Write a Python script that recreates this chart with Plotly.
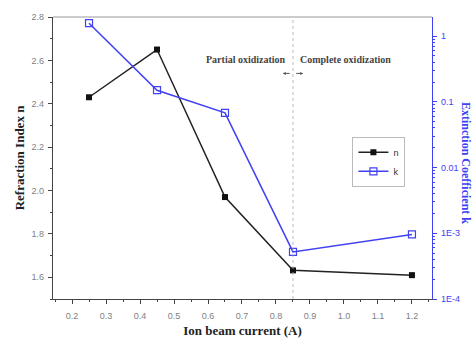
import plotly.graph_objects as go

current = [0.25, 0.45, 0.65, 0.85, 1.2]
n_vals = [2.43, 2.65, 1.97, 1.632, 1.61]
k_vals = [1.57, 0.15, 0.068, 5.2e-4, 9.6e-4]

k_tickvals = [1e-4, 1e-3, 1e-2, 1e-1, 1]
k_ticktext = ["1E-4", "1E-3", "0.01", "0.1", "1"]
k_minor = [m * 10.0 ** e for e in range(-4, 1) for m in range(2, 10) if m * 10.0 ** e < 1.95]

x_ticks = [0.2, 0.3, 0.4, 0.5, 0.6, 0.7, 0.8, 0.9, 1.0, 1.1, 1.2]
n_ticks = [1.6, 1.8, 2.0, 2.2, 2.4, 2.6, 2.8]

BLUE = "#4040f4"
DARK = "#222222"
TICKFONT = dict(family="Liberation Sans, Arial", size=9, color="#808080")
SERIF = "Liberation Serif, Times New Roman"

fig = go.Figure()
fig.add_trace(go.Scatter(
    x=current, y=n_vals, name="n", mode="lines+markers",
    line=dict(color=DARK, width=1.5),
    marker=dict(symbol="square", size=6, color="#111111"),
))
fig.add_trace(go.Scatter(
    x=current, y=k_vals, name="k", mode="lines+markers", yaxis="y2",
    line=dict(color=BLUE, width=1.5),
    marker=dict(symbol="square-open", size=7, color=BLUE, line=dict(width=1.2)),
))

fig.add_shape(type="line", x0=0.85, x1=0.85, y0=0, y1=1, xref="x", yref="paper",
              line=dict(color="#aaaaaa", width=0.8, dash="3px,3px"))

fig.update_layout(
    width=475, height=338,
    margin=dict(l=53, r=43, t=17, b=39),
    paper_bgcolor="white", plot_bgcolor="white",
    showlegend=True,
    legend=dict(x=0.79, y=0.575, xanchor="left", yanchor="top",
                bordercolor="#bbbbbb", borderwidth=1, bgcolor="white",
                font=dict(family="Liberation Sans, Arial", size=9, color="#333333"),
                itemwidth=30, tracegroupgap=0),
    xaxis=dict(range=[0.144, 1.259], tickvals=x_ticks, automargin=False,
               ticktext=[f"{v:.1f}" for v in x_ticks],
               ticks="outside", ticklen=4, tickcolor="#444444", ticklabelstandoff=4,
               minor=dict(ticks="outside", ticklen=2, dtick=0.05, tick0=0.15, tickcolor="#444444"),
               showline=True, linecolor="#444444", linewidth=1.2, mirror=False,
               showgrid=False, zeroline=False, tickfont=TICKFONT,
               title=dict(text="<b>Ion beam current (A)</b>",
                          font=dict(family=SERIF, size=13, color="#222222"), standoff=5)),
    yaxis=dict(range=[1.5, 2.8], tickvals=n_ticks, automargin=False,
               ticktext=[f"{v:.1f}" for v in n_ticks],
               ticks="outside", ticklen=4, tickcolor="#444444", ticklabelstandoff=2,
               minor=dict(ticks="outside", ticklen=2, dtick=0.1, tick0=1.5, tickcolor="#444444"),
               showline=True, linecolor="#444444", linewidth=1.2,
               showgrid=False, zeroline=False, tickfont=TICKFONT,
               title=dict(text="<b>Refraction Index n</b>",
                          font=dict(family=SERIF, size=13, color="#222222"), standoff=4)),
    yaxis2=dict(type="log", range=[-4.0, 0.29], overlaying="y", side="right", automargin=False,
                tickvals=k_tickvals, ticktext=k_ticktext,
                ticks="outside", ticklen=4, tickcolor=BLUE, ticklabelstandoff=2,
                minor=dict(ticks="outside", ticklen=2, tickmode="array", tickvals=k_minor, tickcolor=BLUE),
                showline=True, linecolor=BLUE, linewidth=1.2,
                showgrid=False, zeroline=False,
                tickfont=dict(family="Liberation Sans, Arial", size=9, color=BLUE)),
)

# top frame line
fig.add_shape(type="line", x0=0, x1=1, y0=1, y1=1, xref="paper", yref="paper",
              line=dict(color="#999999", width=1.2))

fig.add_annotation(text="<b>Extinction Coefficient k</b>",
                   x=(466 - 53) / (475 - 53 - 43), y=1 - (163 - 17) / (338 - 17 - 39),
                   xref="paper", yref="paper", xanchor="center", yanchor="middle",
                   showarrow=False, textangle=90,
                   font=dict(family=SERIF, size=12, color=BLUE))

fig.add_annotation(text="<b>Partial oxidization</b>", x=0.835, y=0.85, xref="x", yref="paper",
                   xanchor="right", yanchor="middle", showarrow=False,
                   font=dict(family=SERIF, size=10, color="#444444"))
fig.add_annotation(text="<b>Complete oxidization</b>", x=0.865, y=0.85, xref="x", yref="paper",
                   xanchor="left", yanchor="middle", showarrow=False,
                   font=dict(family=SERIF, size=10, color="#444444"))
fig.add_annotation(x=0.82, y=0.8, ax=0.845, ay=0.8, xref="x", yref="y domain",
                   axref="x", ayref="y domain",
                   text="", showarrow=True, arrowhead=2, arrowsize=0.6, arrowwidth=1, arrowcolor="#555555")
fig.add_annotation(x=0.88, y=0.8, ax=0.855, ay=0.8, xref="x", yref="y domain",
                   axref="x", ayref="y domain",
                   text="", showarrow=True, arrowhead=2, arrowsize=0.6, arrowwidth=1, arrowcolor="#555555")

fig.write_html("out.html")
